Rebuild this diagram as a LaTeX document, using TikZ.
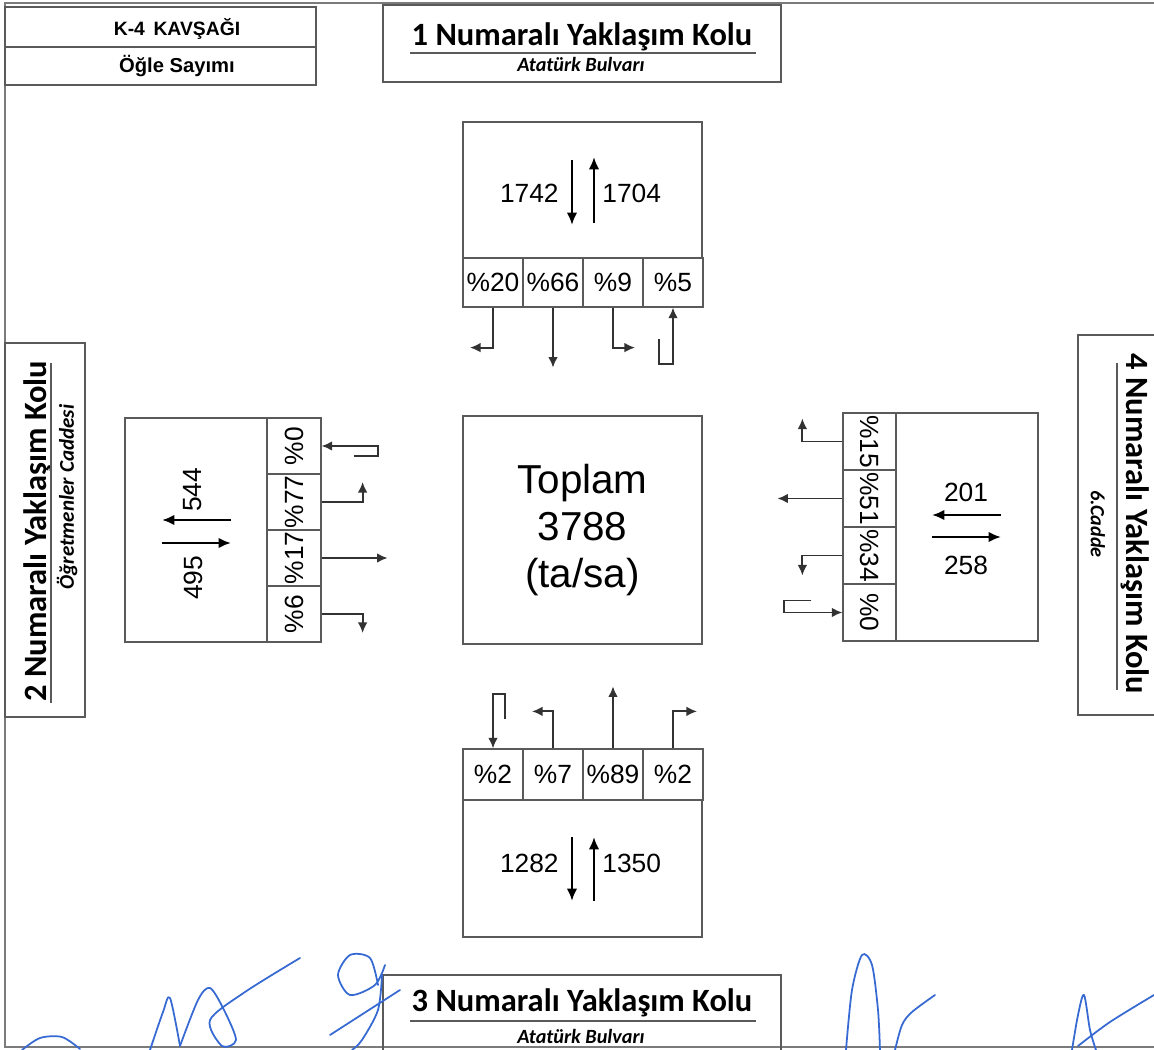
\documentclass[tikz,border=0pt]{standalone}
\usepackage{fontspec}
\setmainfont{Liberation Sans}
\newfontfamily\calfont{Carlito}
\usepackage{graphicx}
\usepackage{xcolor}
\usepackage{tikz}
\usetikzlibrary{arrows.meta,calc,positioning}
\definecolor{boxgray}{RGB}{90,90,90}
\definecolor{arrgray}{RGB}{50,50,50}
\definecolor{inkblue}{RGB}{55,105,210}

\begin{document}
\begin{tikzpicture}[x=0.02cm,y=-0.02cm,>={Latex[length=6pt,width=5.5pt]},
  box/.style={draw=boxgray,line width=0.7pt,inner sep=0pt},
  cell/.style={box,font=\fontsize{15}{18}\selectfont},
  arr/.style={->,arrgray,line width=1.1pt},
  big/.style={-{Latex[length=7pt,width=6pt]},black,line width=1.7pt},
  num/.style={font=\fontsize{15}{18}\selectfont,inner sep=0pt},
  title/.style={font=\calfont\bfseries\fontsize{18.5}{22}\selectfont,inner sep=0pt},
  sub/.style={font=\calfont\bfseries\itshape\fontsize{11.5}{13}\selectfont,inner sep=0pt},
  ink/.style={inkblue,line width=1pt,line cap=round,line join=round}]

\useasboundingbox (0,0) rectangle (1154,1050);
\fill[white] (0,0) rectangle (1154,1050);
\draw[boxgray!80,line width=0.6pt] (5,3) rectangle (1170,1047);

% header boxes
\draw[box] (5,7) rectangle (316,85);
\draw[box] (5,47) -- (316,47);
\node[font=\bfseries\fontsize{11}{13}\selectfont] (kname) at (177,29) {K-4 \,KAVŞAĞI};
\node[font=\bfseries\fontsize{11.5}{13}\selectfont] (ktime) at (177,66) {Öğle Sayımı};

\foreach \num/\yb/\yt/\yl/\ys in {1/5/37/53/64, 3/975/1003/1021/1036}{
  \draw[box] (383,\yb) rectangle (781,\yb+77);
  \node[title] (head\num) at (582,\yt) {\num\ Numaralı Yaklaşım Kolu};
  \draw[boxgray,line width=0.8pt] (410,\yl) -- (756,\yl);
  \node[sub] (road\num) at (581,\ys) {Atatürk Bulvarı};
}

% side boxes
\draw[box] (5,343) rectangle (85,717);
\node[title,rotate=90] (head2) at (38,531) {2 Numaralı Yaklaşım Kolu};
\draw[boxgray,line width=0.8pt] (51,363) -- (51,703);
\node[sub,font=\calfont\bfseries\itshape\fontsize{12}{14}\selectfont,rotate=90] (road2) at (67,497) {Öğretmenler Caddesi};

\draw[box] (1078,335) rectangle (1170,715);
\node[title,rotate=-90] (head4) at (1135,524) {4 Numaralı Yaklaşım Kolu};
\draw[boxgray,line width=0.8pt] (1117,363) -- (1117,690);
\node[sub,rotate=-90] (road4) at (1098,524) {6.Cadde};

% total
\node[box,minimum width=4.78cm,minimum height=4.56cm,align=center,
      font=\fontsize{23}{27}\selectfont] (total) at (582.5,530) {Toplam\\3788\\(ta/sa)};

% north approach
\node[box,minimum width=4.78cm,minimum height=2.72cm] (nbox) at (582.5,190) {};
\foreach \i/\p in {1/20,2/66,3/9,4/5}
  \node[cell,minimum width=1.2cm,minimum height=0.98cm] (nc\i) at (433+60*\i,282.5) {\%\p};
\node[num,anchor=east] (nin) at (559,193) {1742};
\node[num,anchor=west] (nout) at (602,193) {1704};
\draw[big] (572,160) -- (572,225);
\draw[big] (594,223) -- (594,157);
\draw[arr] (nc1.south) |- ++(-23,40) coordinate (nl);
\draw[arr] (nc2.south) -- ++(0,60) coordinate (ns);
\draw[arr] (nc3.south) |- ++(22,40) coordinate (nr);
\draw[arr] (nc4.south) ++(-14,31) coordinate (nu) -- ++(0,25) -| (nc4.south);

% south approach
\node[box,minimum width=4.78cm,minimum height=2.74cm] (sbox) at (582.5,868.5) {};
\foreach \i/\p in {1/2,2/7,3/89,4/2}
  \node[cell,minimum width=1.2cm,minimum height=1.02cm] (sc\i) at (433+60*\i,774.5) {\%\p};
\node[num,anchor=east] (sin) at (559,863) {1282};
\node[num,anchor=west] (sout) at (602,863) {1350};
\draw[big] (572,837) -- (572,901);
\draw[big] (594,901) -- (594,837);
\draw[arr] (sc1.north) ++(12,-29) coordinate (su) -- ++(0,-25) -| (sc1.north);
\draw[arr] (sc2.north) |- ++(-21,-37) coordinate (sl);
\draw[arr] (sc3.north) -- ++(0,-62) coordinate (ss);
\draw[arr] (sc4.north) |- ++(24,-37) coordinate (sr);

% west approach
\node[box,minimum width=2.84cm,minimum height=4.48cm] (wbox) at (196,530) {};
\foreach \i/\p in {1/0,2/77,3/17,4/6}
  \node[cell,minimum width=1.08cm,minimum height=1.12cm] (wc\i) at (294,390+56*\i) {\rotatebox{90}{\%\p}};
\node[num,rotate=90] (win) at (193,578) {495};
\node[num,rotate=90] (wout) at (193,490) {544};
\draw[big] (231,520) -- (162,520);
\draw[big] (162,543) -- (231,543);
\draw[arr] (wc1.east) ++(32,10) coordinate (wu) -- ++(24,0) |- (wc1.east);
\draw[arr] (wc2.east) -| ++(41,-20) coordinate (wl);
\draw[arr] (wc3.east) -- ++(66,0) coordinate (ws);
\draw[arr] (wc4.east) -| ++(41,19) coordinate (wr);

% east approach
\node[box,minimum width=2.84cm,minimum height=4.56cm] (ebox) at (967,527) {};
\foreach \i/\p in {1/15,2/51,3/34,4/0}
  \node[cell,minimum width=1.06cm,minimum height=1.14cm] (ec\i) at (869.5,384.5+57*\i) {\rotatebox{-90}{\%\p}};
\node[num] (ein) at (966,492) {201};
\node[num] (eout) at (966,565) {258};
\draw[big] (1001,515) -- (932,515);
\draw[big] (932,537) -- (1001,537);
\draw[arr] (ec1.west) -| ++(-40,-23) coordinate (er);
\draw[arr] (ec2.west) -- ++(-65,0) coordinate (es);
\draw[arr] (ec3.west) -| ++(-40,20) coordinate (el);
\draw[arr] (ec4.west) ++(-31,-12) coordinate (eu) -- ++(-27,0) |- (ec4.west);

% signatures
\draw[ink] plot[smooth] coordinates {(22,1050) (40,1038) (62,1037) (80,1049)};
\draw[ink] plot[smooth] coordinates {(150,1050) (163,1012) (170,998) (180,1046)};
\draw[ink] plot[smooth] coordinates {(180,1046) (198,1000) (210,988) (224,1010) (236,1040) (222,1046) (210,1020) (245,992) (300,958)};
\draw[ink] plot[smooth] coordinates {(378,985) (370,958) (350,955) (338,975) (350,995) (375,985) (385,965)};
\draw[ink] plot[smooth] coordinates {(382,975) (378,1010) (362,1040) (352,1050)};
\draw[ink] (330,1035) -- (400,990);
\draw[ink] plot[smooth] coordinates {(846,1050) (852,990) (862,955) (872,965) (878,1010) (880,1050)};
\draw[ink] plot[smooth] coordinates {(895,1050) (902,1025) (912,1012) (935,995)};
\draw[ink] plot[smooth] coordinates {(1072,1050) (1078,1015) (1084,995) (1090,1030) (1096,1050)};
\draw[ink] plot[smooth] coordinates {(1078,1046) (1110,1022) (1154,995)};
\end{tikzpicture}
\end{document}
